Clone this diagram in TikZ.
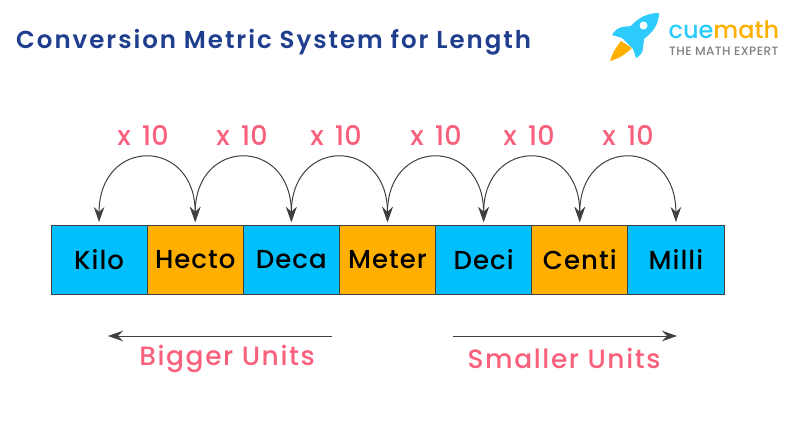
\documentclass[tikz,border=0pt]{standalone}
\usepackage{fontspec}
\setmainfont{Poppins Medium}
\newfontfamily\titlefont{Poppins SemiBold}
\usetikzlibrary{positioning,arrows.meta}
\definecolor{boxblue}{HTML}{00BFFB}
\definecolor{boxorange}{HTML}{FFAF00}
\definecolor{labelpink}{HTML}{F9607C}
\definecolor{titleblue}{HTML}{1F3E8E}
\definecolor{rocketblue}{HTML}{2CCBFB}
\definecolor{linegray}{HTML}{404040}
\tikzset{
  unitbox/.style={draw=linegray, line width=0.9pt, outer sep=0pt, minimum width=96.14pt, minimum height=69pt, inner sep=0pt, font=\fontsize{26}{30}\selectfont\addfontfeatures{LetterSpace=4}},
  hop/.style={draw=linegray, line width=1pt, {Stealth[length=15pt,width=10.5pt,inset=5pt]}-{Stealth[length=15pt,width=10.5pt,inset=5pt]}, shorten <=3pt, shorten >=3pt, out=90, in=90, looseness=2.35},
  times/.style={text=labelpink, font=\fontsize{27}{30}\selectfont},
  direction/.style={draw=linegray, line width=1pt, -{Stealth[length=15pt,width=10.5pt,inset=5pt]}},
  unitlabel/.style={text=labelpink, font=\fontsize{26.5}{30}\selectfont\addfontfeatures{LetterSpace=6}}
}
\begin{document}
\begin{tikzpicture}[x=1pt,y=-1pt]
\useasboundingbox (0,0) rectangle (790,422);
\node [anchor=west, inner sep=0pt, text=titleblue, font=\titlefont\fontsize{24.5}{28}\selectfont\addfontfeatures{LetterSpace=8}] (title) at (16,42.5) {Conversion Metric System for Length};
% boxes
\node [unitbox, fill=boxblue] (kilo) at (99.07,259.5) {Kilo};
\node [unitbox, fill=boxorange, right=0pt of kilo] (hecto) {Hecto};
\node [unitbox, fill=boxblue, right=0pt of hecto] (deca) {Deca};
\node [unitbox, fill=boxorange, right=0pt of deca] (meter) {Meter};
\node [unitbox, fill=boxblue, right=0pt of meter] (deci) {Deci};
\node [unitbox, fill=boxorange, right=0pt of deci] (centi) {Centi};
\node [unitbox, fill=boxblue, right=0pt of centi] (milli) {Milli};
% hops
\draw [hop] (kilo.north) to (hecto.north);
\draw [hop] (hecto.north) to (deca.north);
\draw [hop] (deca.north) to (meter.north);
\draw [hop] (meter.north) to (deci.north);
\draw [hop] (deci.north) to (centi.north);
\draw [hop] (centi.north) to (milli.north);
\node [times] (t1) at (143,135) {x\hspace{4pt} 10};
\node [times] (t2) at (242,135) {x\hspace{4pt} 10};
\node [times] (t3) at (336,135) {x\hspace{4pt} 10};
\node [times] (t4) at (436,135) {x\hspace{4pt} 10};
\node [times] (t5) at (529,135) {x\hspace{4pt} 10};
\node [times] (t6) at (628,135) {x\hspace{4pt} 10};
% directions
\coordinate (bigstart) at (332,336);
\coordinate (bigend) at (108,336);
\coordinate (smallstart) at (453,336);
\coordinate (smallend) at (677,336);
\draw [direction] (bigstart) -- (bigend);
\draw [direction] (smallstart) -- (smallend);
\node [unitlabel] (bigger) at (227,359) {Bigger Units};
\node [unitlabel] (smaller) at (564,358) {Smaller Units};
% logo
\fill [boxorange] (621,41) .. controls (616,47) and (612,54) .. (610,61) .. controls (618,59) and (626,54) .. (632,48) -- cycle;
\fill [rocketblue] (659,13) .. controls (647,13) and (638,18) .. (631,26) -- (622,27) .. controls (618,28) and (614,31) .. (612,35) -- (622,38) -- (633,49) -- (636,58) .. controls (640,56) and (643,52) .. (643,48) -- (644,39) .. controls (653,32) and (659,24) .. (659,13) -- cycle;
\fill [white] (643.5,25.5) circle (4);
\node [anchor=west, inner sep=0pt, font=\fontsize{24}{28}\selectfont] (cue) at (668.5,30) {\textcolor{rocketblue}{cue}\textcolor{boxorange}{math}};
\node [anchor=west, inner sep=0pt, text=gray, font=\fontsize{12.1}{14}\selectfont\addfontfeatures{LetterSpace=3}] (expert) at (669,51) {THE MATH EXPERT};
\end{tikzpicture}
\end{document}
